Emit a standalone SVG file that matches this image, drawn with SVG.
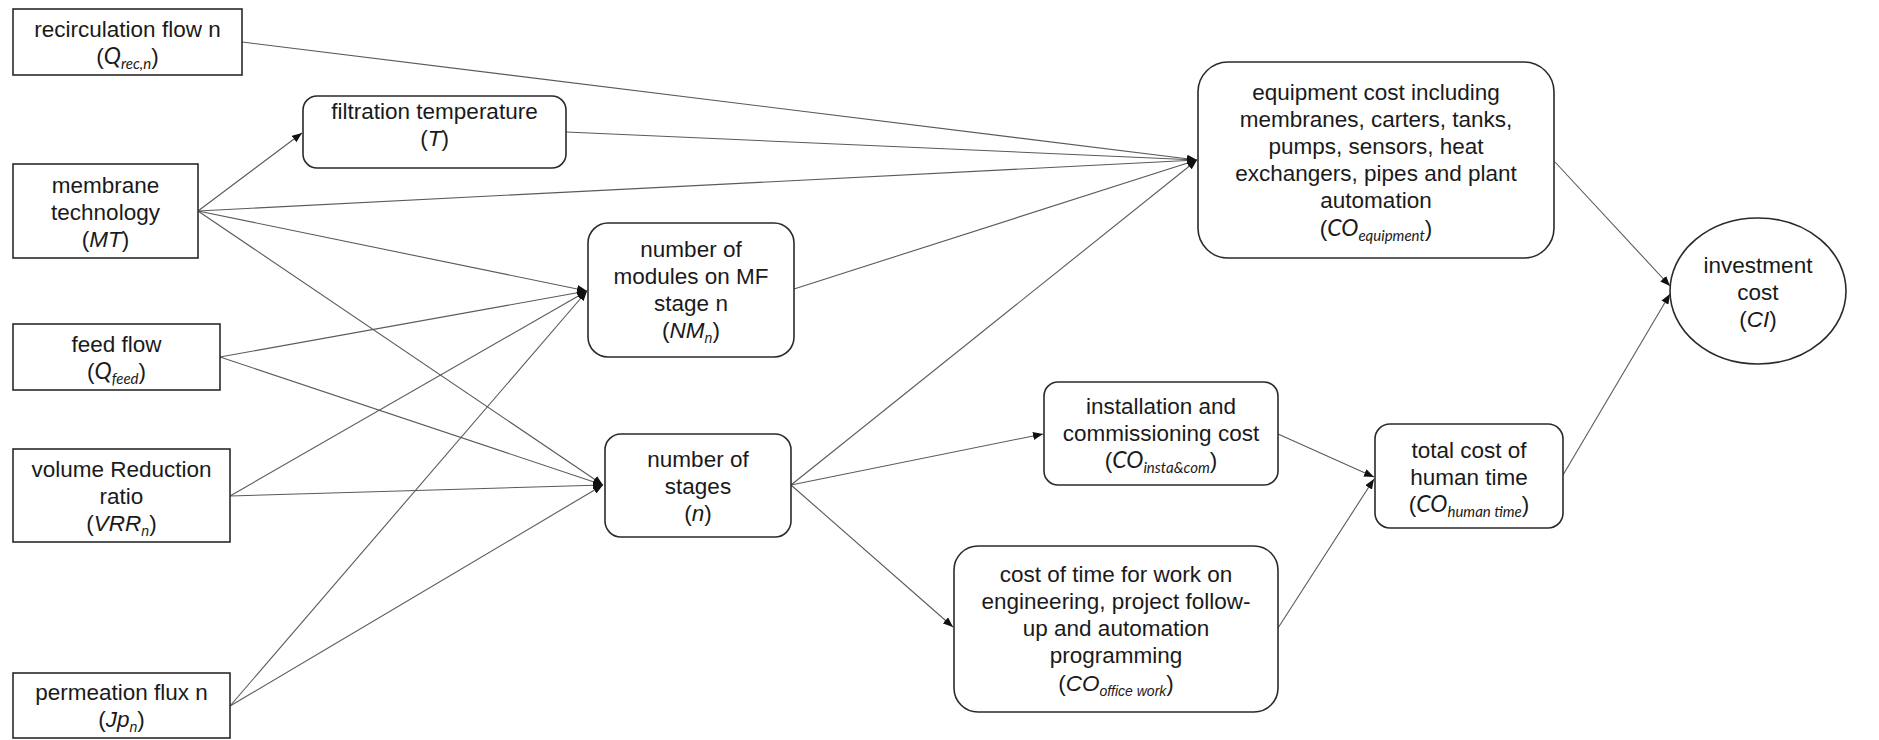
<svg xmlns="http://www.w3.org/2000/svg" width="1879" height="740" viewBox="0 0 1879 740">
  <defs>
    <marker id="arrow" markerUnits="userSpaceOnUse" markerWidth="10" markerHeight="8" refX="10" refY="4" orient="auto">
      <path d="M0,0 L10,4 L0,8 z" fill="#111"/>
    </marker>
    <style>
      .box { fill: #fff; stroke: #2a2a2a; stroke-width: 1.6; }
      .edge { fill: none; stroke: #5a5a5a; stroke-width: 1.1; marker-end: url(#arrow); }
      .t { font-family: "Liberation Sans", Arial, sans-serif; font-size: 22.5px; fill: #1a1a1a; text-anchor: middle; }
      .iA { font-style: italic; }
      .iC { font-family: Lato, "Liberation Sans", sans-serif; font-style: italic; font-size: 23px; }
      .sA { font-style: italic; font-size: 14px; }
      .sC { font-family: Lato, "Liberation Sans", sans-serif; font-style: italic; font-size: 15px; }
    </style>
  </defs>

  <rect width="1879" height="740" fill="#fff"/>

  <!-- connectors -->
  <g id="connectors">
    <path class="edge" d="M242,42 L1197,160"/>
    <path class="edge" d="M566,132 L1197,160"/>
    <path class="edge" d="M198,211 L1197,160"/>
    <path class="edge" d="M794,289 L1197,160"/>
    <path class="edge" d="M791,485 L1197,160"/>
    <path class="edge" d="M198,211 L302,133"/>
    <path class="edge" d="M198,211 L587,291"/>
    <path class="edge" d="M220,357 L587,291"/>
    <path class="edge" d="M230,496 L587,291"/>
    <path class="edge" d="M230,706 L587,291"/>
    <path class="edge" d="M198,211 L603,485"/>
    <path class="edge" d="M220,357 L603,485"/>
    <path class="edge" d="M230,496 L603,485"/>
    <path class="edge" d="M230,706 L603,485"/>
    <path class="edge" d="M791,485 L1043,434"/>
    <path class="edge" d="M791,485 L953,627"/>
    <path class="edge" d="M1278,434 L1374,477"/>
    <path class="edge" d="M1278,628 L1374,479"/>
    <path class="edge" d="M1555,162 L1670,286"/>
    <path class="edge" d="M1563,475 L1670,294"/>
  </g>

  <!-- input nodes -->
  <g id="node-recirculation">
    <rect class="box" x="13" y="9" width="229" height="66"/>
    <text class="t" x="127.5" y="37">recirculation flow n</text>
    <text class="t" x="127.5" y="64">(<tspan class="iC">Q</tspan><tspan class="sC" dy="5">rec,n</tspan><tspan dy="-5">)</tspan></text>
  </g>

  <g id="node-membrane">
    <rect class="box" x="13" y="164" width="185" height="94"/>
    <text class="t" x="105.5" y="193">membrane</text>
    <text class="t" x="105.5" y="220">technology</text>
    <text class="t" x="105.5" y="247">(<tspan class="iA">MT</tspan>)</text>
  </g>

  <g id="node-feed">
    <rect class="box" x="13" y="324" width="207" height="66"/>
    <text class="t" x="116.5" y="352">feed flow</text>
    <text class="t" x="116.5" y="379">(<tspan class="iC">Q</tspan><tspan class="sC" dy="5">feed</tspan><tspan dy="-5">)</tspan></text>
  </g>

  <g id="node-vrr">
    <rect class="box" x="13" y="449" width="217" height="93"/>
    <text class="t" x="121.5" y="477">volume Reduction</text>
    <text class="t" x="121.5" y="504">ratio</text>
    <text class="t" x="121.5" y="531">(<tspan class="iA">VRR</tspan><tspan class="sA" dy="5">n</tspan><tspan dy="-5">)</tspan></text>
  </g>

  <g id="node-permeation">
    <rect class="box" x="13" y="673" width="217" height="65"/>
    <text class="t" x="121.5" y="700">permeation flux n</text>
    <text class="t" x="121.5" y="727">(<tspan class="iA">Jp</tspan><tspan class="sA" dy="5">n</tspan><tspan dy="-5">)</tspan></text>
  </g>

  <!-- intermediate nodes -->
  <g id="node-temperature">
    <rect class="box" x="303" y="96" width="263" height="72" rx="14"/>
    <text class="t" x="434.5" y="119">filtration temperature</text>
    <text class="t" x="434.5" y="146">(<tspan class="iA">T</tspan>)</text>
  </g>

  <g id="node-modules">
    <rect class="box" x="588" y="223" width="206" height="134" rx="20"/>
    <text class="t" x="691" y="257">number of</text>
    <text class="t" x="691" y="284">modules on MF</text>
    <text class="t" x="691" y="311">stage n</text>
    <text class="t" x="691" y="338">(<tspan class="iA">NM</tspan><tspan class="sA" dy="5">n</tspan><tspan dy="-5">)</tspan></text>
  </g>

  <g id="node-stages">
    <rect class="box" x="605" y="434" width="186" height="103" rx="16"/>
    <text class="t" x="698" y="467">number of</text>
    <text class="t" x="698" y="494">stages</text>
    <text class="t" x="698" y="521">(<tspan class="iA">n</tspan>)</text>
  </g>

  <!-- cost nodes -->
  <g id="node-equipment">
    <rect class="box" x="1198" y="62" width="356" height="196" rx="30"/>
    <text class="t" x="1376" y="100">equipment cost including</text>
    <text class="t" x="1376" y="127">membranes, carters, tanks,</text>
    <text class="t" x="1376" y="154">pumps, sensors, heat</text>
    <text class="t" x="1376" y="181">exchangers, pipes and plant</text>
    <text class="t" x="1376" y="208">automation</text>
    <text class="t" x="1376" y="236">(<tspan class="iC">CO</tspan><tspan class="sC" dy="5">equipment</tspan><tspan dy="-5">)</tspan></text>
  </g>

  <g id="node-installation">
    <rect class="box" x="1044" y="382" width="234" height="103" rx="14"/>
    <text class="t" x="1161" y="414">installation and</text>
    <text class="t" x="1161" y="441">commissioning cost</text>
    <text class="t" x="1161" y="468">(<tspan class="iC">CO</tspan><tspan class="sC" dy="5">insta&amp;com</tspan><tspan dy="-5">)</tspan></text>
  </g>

  <g id="node-office">
    <rect class="box" x="954" y="546" width="324" height="166" rx="24"/>
    <text class="t" x="1116" y="582">cost of time for work on</text>
    <text class="t" x="1116" y="609">engineering, project follow-</text>
    <text class="t" x="1116" y="636">up and automation</text>
    <text class="t" x="1116" y="663">programming</text>
    <text class="t" x="1116" y="691">(<tspan class="iA">CO</tspan><tspan class="sA" dy="5">office work</tspan><tspan dy="-5">)</tspan></text>
  </g>

  <g id="node-human">
    <rect class="box" x="1375" y="424" width="188" height="104" rx="15"/>
    <text class="t" x="1469" y="458">total cost of</text>
    <text class="t" x="1469" y="485">human time</text>
    <text class="t" x="1469" y="512">(<tspan class="iC">CO</tspan><tspan class="sC" dy="5">human time</tspan><tspan dy="-5">)</tspan></text>
  </g>

  <g id="node-investment">
    <ellipse class="box" cx="1758" cy="291" rx="88" ry="73"/>
    <text class="t" x="1758" y="273">investment</text>
    <text class="t" x="1758" y="300">cost</text>
    <text class="t" x="1758" y="327">(<tspan class="iA">CI</tspan>)</text>
  </g>
</svg>
